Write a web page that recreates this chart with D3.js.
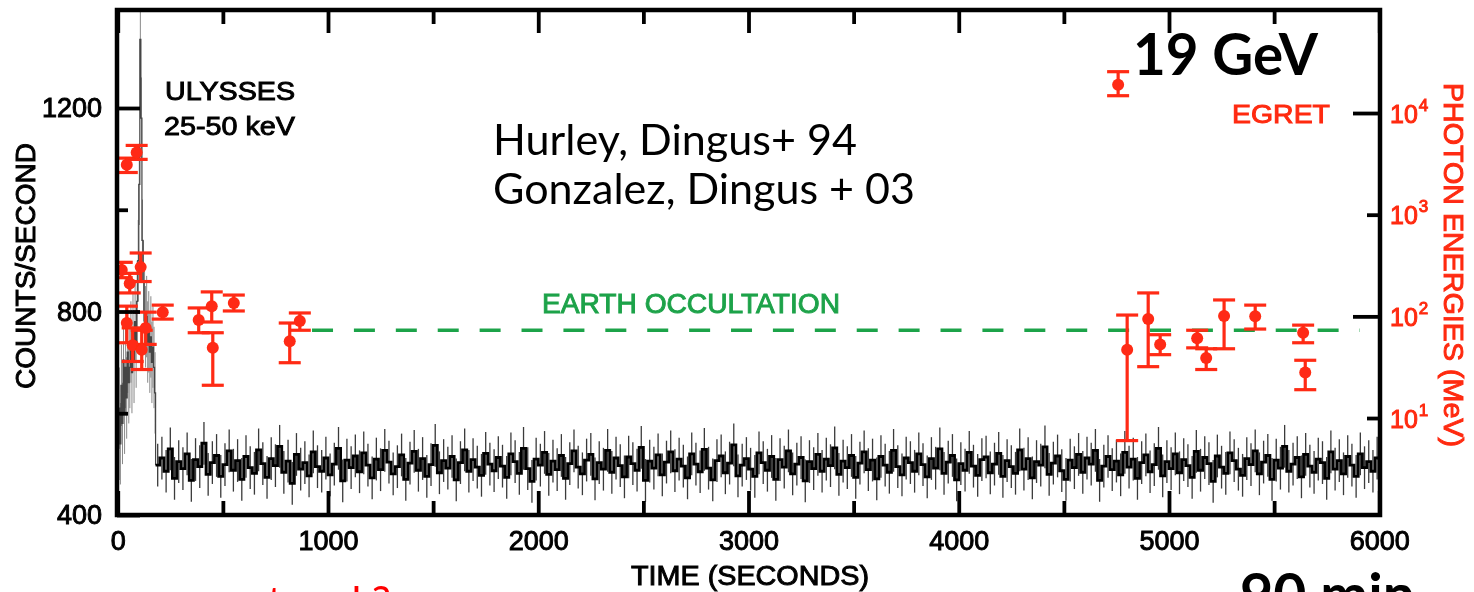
<!DOCTYPE html>
<html>
<head>
<meta charset="utf-8">
<script src="https://d3js.org/d3.v7.min.js"></script>
<style>
  html, body { margin: 0; padding: 0; background: #fff; }
  svg { display: block; }
</style>
</head>
<body>
<svg id="chart" width="1474" height="592"></svg>
<script>
// ---- Ulysses 25-50 keV light curve (counts/second) ----
// burst interval, 5 s bins starting at t = 0
const burstStart = 0;
const burstBin = 5;
const burstCounts = [470, 610, 540, 655, 580, 705, 600, 690, 630, 720, 660, 690,
                     740, 680, 760, 700, 780, 730, 820, 900, 1050, 1335, 1180, 940,
                     860, 800, 770, 790, 740, 760, 720, 750, 700, 730, 690, 640];
const burstErr = 80;

// background after the burst, 20 s bins starting at t = 180
const bgStart = 180;
const bgBin = 20;
const bgCounts = [
  498, 512, 486, 530, 472, 505, 491, 520, 468, 509, 495, 541, 480, 503, 517, 476, 499, 526, 488, 507,
  470, 515, 493, 482, 528, 501, 474, 511, 497, 535, 484, 506, 462, 519, 490, 503, 477, 524, 495, 486,
  512, 479, 500, 531, 467, 508, 493, 516, 485, 522, 498, 473, 510, 489, 527, 504, 481, 495, 518, 470,
  502, 525, 488, 511, 476, 499, 537, 483, 507, 492, 515, 469, 503, 528, 486, 509, 494, 478, 521, 500,
  487, 513, 496, 474, 520, 505, 482, 531, 491, 466, 510, 498, 523, 480, 506, 489, 517, 472, 501, 526,
  494, 481, 508, 519, 471, 503, 490, 527, 484, 512, 497, 475, 514, 501, 488, 533, 468, 506, 492, 518,
  479, 504, 524, 487, 510, 496, 473, 520, 500, 485, 529, 492, 469, 507, 516, 483, 502, 538, 477, 498,
  511, 490, 476, 522, 503, 488, 515, 470, 509, 494, 526, 481, 500, 513, 467, 505, 491, 519, 486, 510,
  497, 532, 480, 506, 493, 517, 474, 502, 524, 489, 508, 471, 515, 498, 484, 527, 495, 479, 512, 503,
  486, 520, 499, 475, 511, 492, 530, 482, 504, 517, 469, 501, 488, 523, 496, 478, 509, 514, 483, 500,
  521, 476, 507, 495, 482, 528, 490, 511, 473, 505, 498, 534, 480, 502, 516, 487, 470, 508, 493, 519,
  484, 512, 500, 527, 468, 496, 515, 489, 506, 479, 523, 494, 510, 472, 503, 518, 485, 499, 531, 477,
  505, 491, 520, 483, 509, 497, 474, 525, 488, 513, 501, 466, 516, 494, 482, 522, 507, 490, 478, 511,
  499, 526, 481, 504, 517, 470, 508, 492, 535, 486, 500, 513, 475, 519, 496, 484, 510, 503, 472, 524,
  490, 507, 481, 515, 498, 476, 520, 493, 505, 486, 512
];
const bgErr = 42;

// ---- EGRET photons: arrival time (s), energy and 1-sigma range (MeV) ----
const egretTime   = [43, 90, 19, 57, 109, 43, 71, 114, 133, 214, 385, 447, 452, 552, 818, 866,
                     4758, 4801, 4901, 4958, 5134, 5177, 5262, 5410, 5638, 5648];
const egretEnergy = [3100, 4100, 285, 210, 305, 86, 52, 47, 77, 110, 92, 126, 49, 135, 57, 90,
                     19000, 47, 94, 53, 61, 39, 101, 100, 69, 28];
const egretLow    = [2600, 3500, 240, 170, 220, 55, 36, 30, 53, 94, 69, 88, 21, 113, 35, 73,
                     14800, 6, 32, 42, 49, 30, 48, 75, 55, 19];
const egretHigh   = [3600, 4800, 340, 265, 420, 126, 77, 73, 110, 129, 121, 174, 69, 162, 86, 108,
                     25500, 103, 170, 66, 73, 48, 145, 129, 82, 37];

// Earth occultation interval (s) and the energy level its marker is drawn at (MeV)
const occultation = [924, 5908];
const occultationLevel = 73;

// ---- tick values ----
const timeTicks = [0, 500, 1000, 1500, 2000, 2500, 3000, 3500, 4000, 4500, 5000, 5500, 6000];
const timeLabels = [0, 1000, 2000, 3000, 4000, 5000, 6000];
const countTicks = [400, 600, 800, 1000, 1200];
const countLabels = [400, 800, 1200];
const energyTicks = [10, 100, 1000, 10000];

// ---- layout ----
const frame = { left: 117, top: 10, right: 1380, bottom: 515 };
const RED = "#ff2a12";
const GREEN = "#1fa34a";
const FIG_FONT = "'Liberation Sans', Arial, Helvetica, sans-serif";
const SLIDE_FONT = "Lato, 'Open Sans', sans-serif";
const TEXT_STROKE = 0.95;

const svg = d3.select("#chart");
const defs = svg.append("defs");
defs.append("filter").attr("id", "soft")
  .attr("x", "-2%").attr("y", "-2%").attr("width", "104%").attr("height", "104%")
  .append("feGaussianBlur").attr("stdDeviation", 0.75);
defs.append("clipPath").attr("id", "plotClip")
  .append("rect")
  .attr("x", frame.left).attr("y", frame.top)
  .attr("width", frame.right - frame.left).attr("height", frame.bottom - frame.top);

const x = d3.scaleLinear().domain([0, 6000]).range([117.75, 1379.25]);
const yC = d3.scaleLinear().domain([400, 1200]).range([515, 108]);
const yE = d3.scaleLog().domain([1, 1e5]).range([519.7, 11.35]);

const fig = svg.append("g").attr("filter", "url(#soft)");
const plot = fig.append("g").attr("clip-path", "url(#plotClip)");

// ---- light curve ----
const burstPts = burstCounts.map((v, i) => ({ t: burstStart + i * burstBin, v, w: burstBin }));
const bgPts = bgCounts.map((v, i) => ({ t: bgStart + i * bgBin, v, w: bgBin }));

const step = d3.line().x(d => x(d.t)).y(d => yC(d.v)).curve(d3.curveStepAfter);

// error bars
plot.append("g").selectAll("line").data(bgPts).join("line")
  .attr("x1", d => x(d.t + d.w / 2)).attr("x2", d => x(d.t + d.w / 2))
  .attr("y1", d => yC(d.v - bgErr)).attr("y2", d => yC(d.v + bgErr))
  .attr("stroke", "#3a3a3a").attr("stroke-width", 1.3);
plot.append("g").selectAll("line").data(burstPts).join("line")
  .attr("x1", d => x(d.t + d.w / 2)).attr("x2", d => x(d.t + d.w / 2))
  .attr("y1", d => yC(d.v - burstErr)).attr("y2", d => yC(d.v + burstErr))
  .attr("stroke", "#888").attr("stroke-width", 1);

// histogram steps
plot.append("path")
  .attr("d", step(burstPts.concat([bgPts[0]])))
  .attr("fill", "none").attr("stroke", "#444").attr("stroke-width", 1.2);
const lastBg = bgPts[bgPts.length - 1];
plot.append("path")
  .attr("d", step(bgPts.concat([{ t: lastBg.t + lastBg.w, v: lastBg.v }])))
  .attr("fill", "none").attr("stroke", "#000").attr("stroke-width", 2.8);

// ---- Earth occultation marker ----
plot.append("line")
  .attr("x1", x(occultation[0])).attr("x2", x(occultation[1]))
  .attr("y1", yE(occultationLevel)).attr("y2", yE(occultationLevel))
  .attr("stroke", GREEN).attr("stroke-width", 3.5)
  .attr("stroke-dasharray", "21 20.9");
fig.append("text")
  .attr("x", 542).attr("y", 313)
  .attr("font-family", FIG_FONT).attr("font-size", 27)
  .attr("textLength", 298).attr("lengthAdjust", "spacingAndGlyphs")
  .attr("fill", GREEN).attr("stroke", GREEN).attr("stroke-width", TEXT_STROKE)
  .text("EARTH OCCULTATION");

// ---- EGRET photons ----
const photons = egretTime.map((t, i) => ({ t, e: egretEnergy[i], lo: egretLow[i], hi: egretHigh[i] }));
const pg = plot.append("g").attr("stroke", RED).attr("fill", RED);
const capW = 11;
pg.selectAll("line.bar").data(photons).join("line").attr("class", "bar")
  .attr("x1", d => x(d.t)).attr("x2", d => x(d.t))
  .attr("y1", d => yE(d.lo)).attr("y2", d => yE(d.hi))
  .attr("stroke-width", 3.2);
pg.selectAll("line.capHi").data(photons).join("line").attr("class", "capHi")
  .attr("x1", d => x(d.t) - capW).attr("x2", d => x(d.t) + capW)
  .attr("y1", d => yE(d.hi)).attr("y2", d => yE(d.hi))
  .attr("stroke-width", 3.2);
pg.selectAll("line.capLo").data(photons).join("line").attr("class", "capLo")
  .attr("x1", d => x(d.t) - capW).attr("x2", d => x(d.t) + capW)
  .attr("y1", d => yE(d.lo)).attr("y2", d => yE(d.lo))
  .attr("stroke-width", 3.2);
pg.selectAll("circle").data(photons).join("circle")
  .attr("cx", d => x(d.t)).attr("cy", d => yE(d.e)).attr("r", 6)
  .attr("stroke", "none");

// ---- frame ----
fig.append("rect")
  .attr("x", frame.left).attr("y", frame.top)
  .attr("width", frame.right - frame.left).attr("height", frame.bottom - frame.top)
  .attr("fill", "none").attr("stroke", "#000").attr("stroke-width", 4.5);

function styleAxis(g, color) {
  g.select(".domain").remove();
  g.attr("font-family", FIG_FONT).attr("font-size", 27);
  g.selectAll(".tick line").attr("stroke", "#000").attr("stroke-width", 3.8);
  g.selectAll(".tick text").attr("fill", color).attr("stroke", color).attr("stroke-width", TEXT_STROKE);
}

// bottom axis (inward ticks, labels every 1000 s)
const gB = fig.append("g").attr("transform", `translate(0,${frame.bottom})`)
  .call(d3.axisBottom(x).tickValues(timeTicks).tickSize(0).tickPadding(16)
    .tickFormat(d => timeLabels.includes(d) ? String(d) : ""));
styleAxis(gB, "#000");
gB.selectAll(".tick line").attr("y2", d => timeLabels.includes(d) ? -24 : -14);

// top axis (ticks only)
const gT = fig.append("g").attr("transform", `translate(0,${frame.top})`)
  .call(d3.axisTop(x).tickValues(timeTicks).tickSize(0).tickFormat(() => ""));
styleAxis(gT, "#000");
gT.selectAll(".tick line").attr("y2", d => timeLabels.includes(d) ? 23 : 14);

// left axis: counts/second
const gL = fig.append("g").attr("transform", `translate(${frame.left},0)`)
  .call(d3.axisLeft(yC).tickValues(countTicks).tickSize(0).tickPadding(15)
    .tickFormat(d => countLabels.includes(d) ? String(d) : ""));
styleAxis(gL, "#000");
gL.selectAll(".tick line").attr("x2", d => countLabels.includes(d) ? 23 : 11);

// right axis: photon energies, log scale
const gR = fig.append("g").attr("transform", `translate(${frame.right},0)`)
  .call(d3.axisRight(yE).tickValues(energyTicks).tickSize(0).tickFormat(() => ""));
styleAxis(gR, RED);
gR.selectAll(".tick line").attr("x2", d => Math.round(Math.log10(d)) % 2 === 0 ? -27 : -13);
gR.selectAll(".tick text").each(function (d) {
  const t = d3.select(this);
  t.text(null).attr("x", 10).attr("dy", null).attr("y", 9)
    .attr("text-anchor", "start").attr("font-size", 25);
  t.append("tspan").text("10");
  t.append("tspan").attr("dy", -12).attr("dx", 1).attr("font-size", 17)
    .text(String(Math.round(Math.log10(d))));
});

// axis titles
fig.append("text")
  .attr("transform", "translate(750,585)")
  .attr("text-anchor", "middle")
  .attr("font-family", FIG_FONT).attr("font-size", 27)
  .attr("textLength", 238).attr("lengthAdjust", "spacingAndGlyphs")
  .attr("fill", "#000").attr("stroke", "#000").attr("stroke-width", TEXT_STROKE)
  .text("TIME (SECONDS)");
fig.append("text")
  .attr("transform", "translate(35,266) rotate(-90)")
  .attr("text-anchor", "middle")
  .attr("font-family", FIG_FONT).attr("font-size", 28)
  .attr("textLength", 246).attr("lengthAdjust", "spacingAndGlyphs")
  .attr("fill", "#000").attr("stroke", "#000").attr("stroke-width", TEXT_STROKE)
  .text("COUNTS/SECOND");
fig.append("text")
  .attr("transform", "translate(1444,265) rotate(90)")
  .attr("text-anchor", "middle")
  .attr("font-family", FIG_FONT).attr("font-size", 28)
  .attr("textLength", 364).attr("lengthAdjust", "spacingAndGlyphs")
  .attr("fill", RED).attr("stroke", RED).attr("stroke-width", TEXT_STROKE)
  .text("PHOTON ENERGIES (MeV)");

// instrument labels
const instr = fig.append("g").attr("font-family", FIG_FONT).attr("font-size", 26);
instr.append("text").attr("x", 165).attr("y", 100)
  .attr("textLength", 130).attr("lengthAdjust", "spacingAndGlyphs")
  .attr("fill", "#000").attr("stroke", "#000").attr("stroke-width", TEXT_STROKE)
  .text("ULYSSES");
instr.append("text").attr("x", 164).attr("y", 135)
  .attr("textLength", 131).attr("lengthAdjust", "spacingAndGlyphs")
  .attr("fill", "#000").attr("stroke", "#000").attr("stroke-width", TEXT_STROKE)
  .text("25-50 keV");
instr.append("text").attr("x", 1232).attr("y", 123)
  .attr("textLength", 98).attr("lengthAdjust", "spacingAndGlyphs")
  .attr("fill", RED).attr("stroke", RED).attr("stroke-width", TEXT_STROKE)
  .text("EGRET");

// ---- slide annotations ----
const notes = svg.append("g").attr("font-family", SLIDE_FONT);
notes.append("text").attr("x", 493).attr("y", 155).attr("font-size", 42)
  .attr("textLength", 364).attr("lengthAdjust", "spacingAndGlyphs")
  .attr("fill", "#000").text("Hurley, Dingus+ 94");
notes.append("text").attr("x", 493).attr("y", 204).attr("font-size", 42)
  .attr("textLength", 422).attr("lengthAdjust", "spacingAndGlyphs")
  .attr("fill", "#000").text("Gonzalez, Dingus + 03");
notes.append("text").attr("x", 1133).attr("y", 75).attr("font-size", 58).attr("font-weight", 700)
  .attr("textLength", 185).attr("lengthAdjust", "spacingAndGlyphs")
  .attr("fill", "#000").text("19 GeV");
notes.append("text").attr("x", 1240).attr("y", 615).attr("font-size", 58).attr("font-weight", 700)
  .attr("textLength", 175).attr("lengthAdjust", "spacingAndGlyphs")
  .attr("fill", "#000").text("90 min");
notes.append("text").attr("x", 148).attr("y", 617).attr("font-size", 42)
  .attr("fill", "#ff0000").text("prompt and ?");
</script>
</body>
</html>
